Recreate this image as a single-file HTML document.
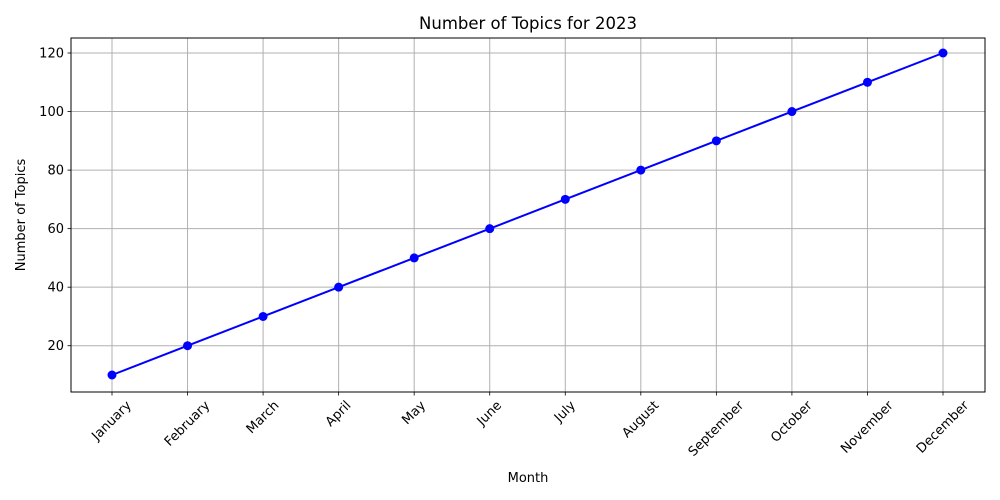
<!DOCTYPE html>
<html><head><meta charset="utf-8"><style>
html,body{margin:0;padding:0;background:#fff}
svg{display:block;font-family:"DejaVu Sans","Liberation Sans",sans-serif}
</style></head><body>
<svg id="chart" width="1000" height="500" xmlns="http://www.w3.org/2000/svg">
<rect width="1000" height="500" fill="#fff"/>
<text x="528" y="29" font-size="16.5" text-anchor="middle">Number of Topics for 2023</text>
<text x="528" y="482" font-size="13" text-anchor="middle">Month</text>
<text transform="translate(25,215) rotate(-90)" font-size="13" text-anchor="middle">Number of Topics</text>
<g id="grid"></g>
<g id="axes"></g>
<g id="series"></g>
<rect x="71" y="38" width="914" height="354" fill="none" stroke="#000" stroke-width="1"/>
</svg>
<script>
const months = ["January","February","March","April","May","June","July","August","September","October","November","December"];
const topics = [10,20,30,40,50,60,70,80,90,100,110,120];
const yTicks = [20,40,60,80,100,120];

const NS = "http://www.w3.org/2000/svg";
const L = 71, R = 985, T = 38, B = 392;
const x0 = 112, x1 = 943;
function xScale(i){ return x0 + i * (x1 - x0) / (months.length - 1); }
function yScale(v){ return 375 + (v - 10) * (53 - 375) / 110; }
function mk(tag, attrs, parent){
  const e = document.createElementNS(NS, tag);
  for (const k in attrs) e.setAttribute(k, attrs[k]);
  parent.appendChild(e); return e;
}
const grid = document.getElementById('grid');
const axes = document.getElementById('axes');
const series = document.getElementById('series');

months.forEach((m, i) => {
  const x = xScale(i);
  const g = mk('line', {x1:x, x2:x, y1:T, y2:B, stroke:'#b0b0b0', 'stroke-width':1}, grid);
  
  
  const t = mk('line', {x1:x, x2:x, y1:B, y2:B+3.5, stroke:'#000', 'stroke-width':0.8}, axes);
  
  
  const lb = mk('text', {x:0, y:0, 'font-size':13, 'text-anchor':'middle', 'dominant-baseline':'central'}, axes);
  lb.textContent = m;
  
  
  const len = lb.getComputedTextLength();
  const half = (len + 13) * 0.7071 / 2;
  lb.setAttribute('transform', `translate(${x},${B + 7 + half}) rotate(-45)`);
});
yTicks.forEach(v => {
  const y = yScale(v);
  const g = mk('line', {x1:L, x2:R, y1:y, y2:y, stroke:'#b0b0b0', 'stroke-width':1}, grid);
  
  
  const t = mk('line', {x1:L-3.5, x2:L, y1:y, y2:y, stroke:'#000', 'stroke-width':0.8}, axes);
  
  
  const lb = mk('text', {x:L-7, y:y+4.5, 'font-size':13, 'text-anchor':'end'}, axes);
  lb.textContent = v;
  
  
});
const pts = topics.map((v, i) => xScale(i) + ',' + yScale(v)).join(' ');
const line = mk('polyline', {points:pts, fill:'none', stroke:'#0000ff', 'stroke-width':2}, series);


topics.forEach((v, i) => {
  const c = mk('circle', {cx:xScale(i), cy:yScale(v), r:4.5, fill:'#0000ff'}, series);
  
  
});
</script>
</body></html>
